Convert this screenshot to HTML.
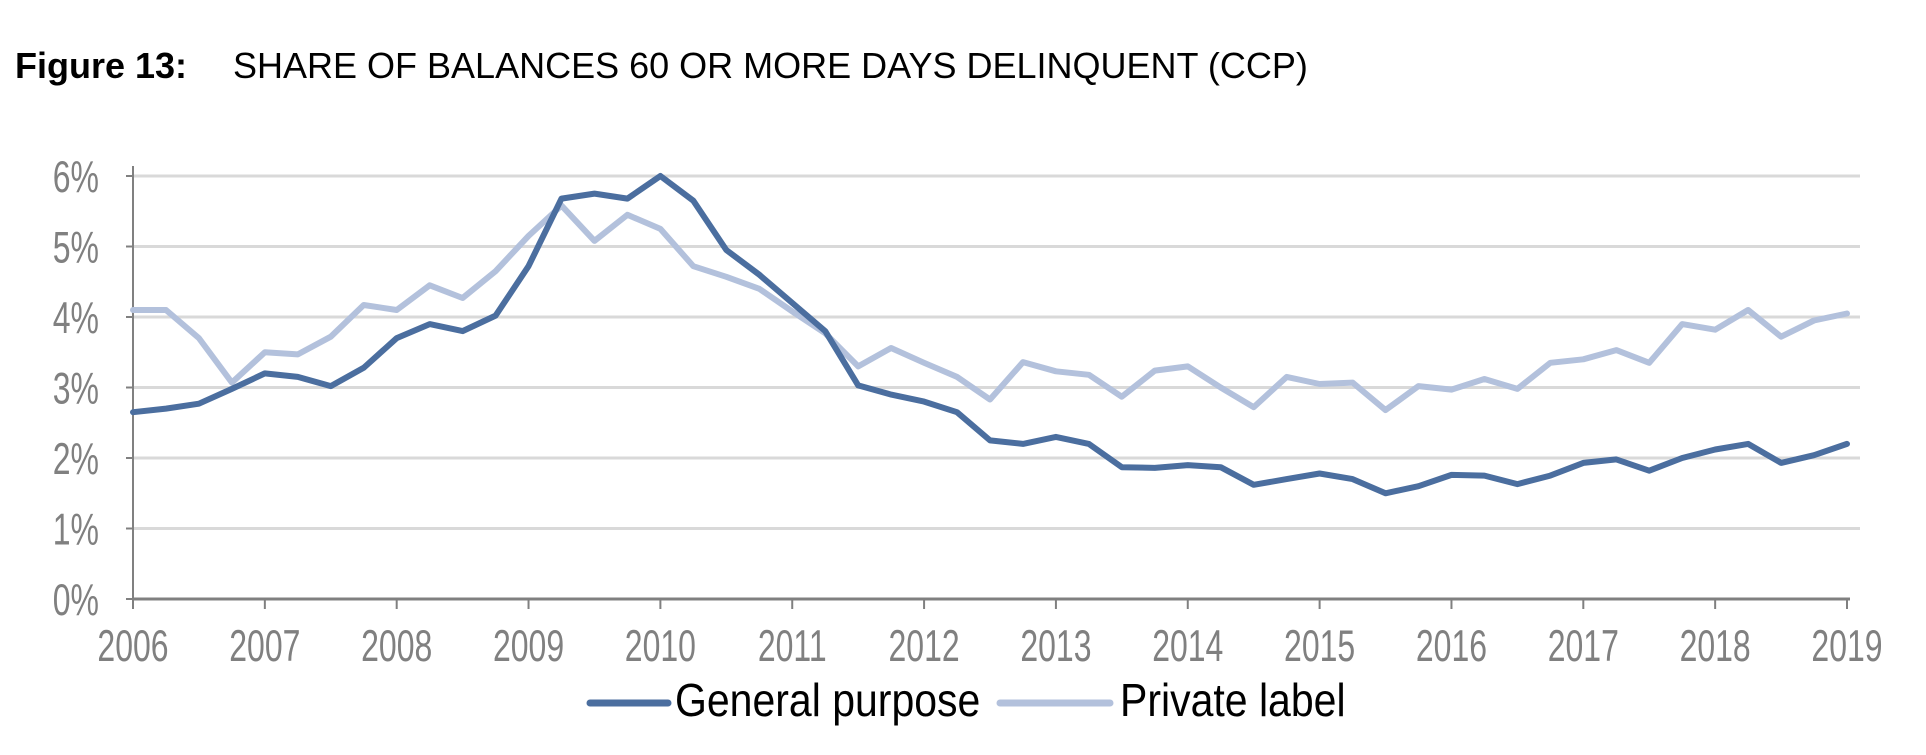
<!DOCTYPE html>
<html><head><meta charset="utf-8"><style>
html,body{margin:0;padding:0;background:#fff;}
body{width:1926px;height:750px;overflow:hidden;font-family:"Liberation Sans",sans-serif;}
</style></head><body>
<svg id="chart" width="1926" height="750" xmlns="http://www.w3.org/2000/svg" font-family="Liberation Sans, sans-serif">
<text x="15" y="78" font-size="36" font-weight="bold" fill="#000">Figure 13:</text>
<text x="233" y="78" font-size="36" fill="#000">SHARE OF BALANCES 60 OR MORE DAYS DELINQUENT (CCP)</text>
<g id="grid"></g><g id="axes"></g><g id="series"></g>
<g>
<line x1="590" y1="703" x2="668" y2="703" stroke="#4b6e9f" stroke-width="7" stroke-linecap="round"/>
<text transform="translate(675,716) scale(1,1.12)" font-size="41" fill="#000">General purpose</text>
<line x1="1000" y1="703" x2="1110" y2="703" stroke="#b3c1dc" stroke-width="7" stroke-linecap="round"/>
<text transform="translate(1120,716) scale(1,1.12)" font-size="41" fill="#000">Private label</text>
</g>
</svg>
<script>
const years=[2006,2007,2008,2009,2010,2011,2012,2013,2014,2015,2016,2017,2018,2019];
const yTicks=[0,1,2,3,4,5,6];
const yTickLabels=["0%","1%","2%","3%","4%","5%","6%"];
const generalPurpose=[2.65,2.70,2.77,2.98,3.2,3.15,3.02,3.28,3.7,3.9,3.8,4.02,4.72,5.68,5.75,5.68,6.0,5.65,4.95,4.6,4.2,3.8,3.03,2.9,2.8,2.65,2.25,2.2,2.3,2.2,1.87,1.86,1.9,1.87,1.62,1.7,1.78,1.7,1.5,1.6,1.76,1.75,1.63,1.75,1.93,1.98,1.82,2.0,2.12,2.2,1.93,2.04,2.2];
const privateLabel=[4.1,4.1,3.7,3.07,3.5,3.47,3.72,4.17,4.1,4.45,4.27,4.65,5.15,5.58,5.08,5.45,5.25,4.72,4.57,4.4,4.08,3.77,3.3,3.56,3.35,3.15,2.83,3.36,3.23,3.18,2.87,3.24,3.3,3.0,2.72,3.15,3.05,3.07,2.68,3.02,2.97,3.12,2.98,3.35,3.4,3.53,3.35,3.9,3.82,4.1,3.72,3.95,4.05];
const NS="http://www.w3.org/2000/svg";
const X0=133,X1=1847,Y0=599,Y6=176;
const xScale=t=>X0+(t-2006)/(2019-2006)*(X1-X0);
const yScale=v=>Y0-v/6*(Y0-Y6);
function mk(tag,attrs,parent){const e=document.createElementNS(NS,tag);for(const k in attrs)e.setAttribute(k,attrs[k]);parent.appendChild(e);return e;}
const grid=document.getElementById('grid'),axes=document.getElementById('axes'),series=document.getElementById('series');
yTicks.forEach((v,i)=>{
  if(v>0){const g=mk('line',{x1:X0,x2:1860,y1:yScale(v),y2:yScale(v),stroke:'#d9d9d9','stroke-width':3},grid);
  
  }
  const tk=mk('line',{x1:X0-7,x2:X0,y1:yScale(v),y2:yScale(v),stroke:'#808080','stroke-width':2},axes);
  
  
  const t=mk('text',{transform:'translate(99,'+(yScale(v)+16)+') scale(1,1.4)','font-size':32,fill:'#808080','text-anchor':'end'},axes);
  t.textContent=yTickLabels[i];
  
  
});
const ya=mk('line',{x1:X0,x2:X0,y1:166,y2:Y0,stroke:'#808080','stroke-width':2},axes);


const xa=mk('line',{x1:X0,x2:1850,y1:Y0,y2:Y0,stroke:'#808080','stroke-width':3},axes);


years.forEach(y=>{
  const tk=mk('line',{x1:xScale(y),x2:xScale(y),y1:Y0,y2:Y0+10,stroke:'#808080','stroke-width':2},axes);
  
  
  const t=mk('text',{transform:'translate('+xScale(y)+',661) scale(1,1.4)','font-size':32,fill:'#808080','text-anchor':'middle'},axes);
  t.textContent=y;
  
  
});
function drawLine(data,color,name){
  const pts=data.map((v,i)=>xScale(2006+i*0.25).toFixed(1)+','+yScale(v).toFixed(1)).join(' ');
  const p=mk('polyline',{points:pts,fill:'none',stroke:color,'stroke-width':6,'stroke-linejoin':'round','stroke-linecap':'round'},series);
  
  
}
drawLine(privateLabel,'#b3c1dc','private-label-line');
drawLine(generalPurpose,'#4b6e9f','general-purpose-line');
</script>
</body></html>
